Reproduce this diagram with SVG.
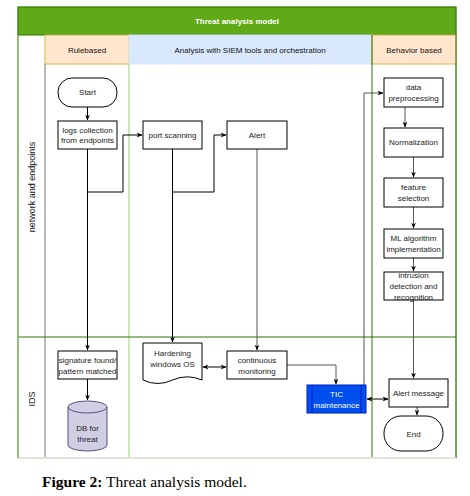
<svg xmlns="http://www.w3.org/2000/svg" width="470" height="496" viewBox="0 0 470 496">
<defs>
<marker id="ah" viewBox="0 0 10 10" refX="9" refY="5" markerWidth="6" markerHeight="6" orient="auto-start-reverse" markerUnits="userSpaceOnUse">
<path d="M0,1 L10,5 L0,9 L3,5 Z" fill="#000"/>
</marker>
<style>
text{font-family:"Liberation Sans",Arial,sans-serif;font-size:8px;fill:#222;text-anchor:middle}
.hdr{font-weight:bold;fill:#fff;font-size:8px}
.lh{font-size:8px;fill:#111}
.ll{font-size:9px;fill:#111}
.box{fill:#fff;stroke:#000;stroke-width:1}
.con{fill:none;stroke:#000;stroke-width:1}
.cong{fill:none;stroke:#555;stroke-width:1}
.cap{font-family:"Liberation Serif","Times New Roman",serif;font-size:15.5px;fill:#000;text-anchor:start}
</style>
</defs>
<rect width="470" height="496" fill="#fff"/>
<g id="pool">
<rect x="18" y="7" width="438" height="451" fill="#fff" stroke="#82b366"/>
<rect x="18" y="7" width="438" height="28" fill="#60a917" stroke="#2d7600"/>
<text class="hdr" x="237" y="24">Threat analysis model</text>
<rect x="45" y="35" width="84" height="29" fill="#ffe6cc" stroke="#d6b656"/>
<text class="lh" x="87" y="53">Rulebased</text>
<rect x="129" y="35" width="243" height="29" fill="#dae8fc" stroke="#dae8fc"/>
<text class="lh" x="250" y="53">Analysis with SIEM tools and orchestration</text>
<rect x="372" y="35" width="84" height="29" fill="#ffe6cc" stroke="#d6b656"/>
<text class="lh" x="414" y="53">Behavior based</text>
<line x1="45" y1="64" x2="45" y2="458" stroke="#777"/>
<line x1="129" y1="64" x2="129" y2="458" stroke="#97d077"/>
<line x1="372" y1="35" x2="372" y2="458" stroke="#2d7600"/>
<line x1="456" y1="35" x2="456" y2="458" stroke="#2d7600"/>
<line x1="18" y1="337" x2="456" y2="337" stroke="#2d7600"/>
<line x1="18" y1="458" x2="456" y2="458" stroke="#e0e6dc" stroke-width="2"/>
<line x1="18" y1="35" x2="18" y2="458" stroke="#82b366" stroke-width="1.5"/>
<text class="ll" transform="translate(35,187) rotate(-90)">network and endpoints</text>
<text class="ll" transform="translate(35,399) rotate(-90)">IDS</text>
</g>
<g id="connectors">
<path class="con" d="M87.5,107 V120" marker-end="url(#ah)"/>
<path class="con" d="M87.5,149 V350" marker-end="url(#ah)"/>
<path class="con" d="M87.5,192 H123 V135 H142" marker-end="url(#ah)"/>
<path class="con" d="M172.5,149 V342" marker-end="url(#ah)"/>
<path class="con" d="M172.5,192 H214 V135 H226" marker-end="url(#ah)"/>
<path class="cong" d="M257,149 V350" marker-end="url(#ah)"/>
<path class="con" d="M203,367 H226" marker-start="url(#ah)" marker-end="url(#ah)"/>
<path class="cong" d="M287,365 H336 V384" marker-end="url(#ah)"/>
<path class="cong" d="M364,385 V93 H383" marker-end="url(#ah)"/>
<path class="cong" d="M405,107 V127" marker-end="url(#ah)"/>
<path class="cong" d="M413.5,157 V177" marker-end="url(#ah)"/>
<path class="cong" d="M413.5,207 V228" marker-end="url(#ah)"/>
<path class="cong" d="M413.5,258 V271" marker-end="url(#ah)"/>
<path class="cong" d="M413.5,300 V378" marker-end="url(#ah)"/>
<path class="cong" d="M417,407 V415" marker-end="url(#ah)"/>
<path class="con" d="M367,399 H388" marker-start="url(#ah)" marker-end="url(#ah)"/>
<path class="con" d="M87.5,379 V400" marker-end="url(#ah)"/>
</g>
<g id="start"><rect class="box" x="58" y="78" width="59" height="29" rx="14" ry="14"/><text x="87.5" y="95">Start</text></g>
<g id="logs"><rect class="box" x="58" y="121" width="59" height="28"/><text x="87.5" y="133">logs collection</text><text x="87.5" y="143">from endpoints</text></g>
<g id="port"><rect class="box" x="143" y="121" width="59" height="28"/><text x="172.5" y="138">port scanning</text></g>
<g id="alert"><rect class="box" x="227" y="121" width="60" height="28"/><text x="257" y="138">Alert</text></g>
<g id="datapre"><rect class="box" x="384" y="78" width="59" height="29"/><text x="413.5" y="90">data</text><text x="413.5" y="101">preprocessing</text></g>
<g id="norm"><rect class="box" x="384" y="128" width="59" height="29"/><text x="413.5" y="145">Normalization</text></g>
<g id="feature"><rect class="box" x="384" y="178" width="59" height="29"/><text x="413.5" y="190">feature</text><text x="413.5" y="201">selection</text></g>
<g id="ml"><rect class="box" x="384" y="229" width="59" height="29"/><text x="413.5" y="241">ML algorithm</text><text x="413.5" y="252">implementation</text></g>
<g id="intrusion"><rect class="box" x="384" y="272" width="59" height="28"/><text x="413.5" y="278">intrusion</text><text x="413.5" y="289">detection and</text><text x="413.5" y="300">recognition</text></g>
<g id="signature"><rect class="box" x="58" y="351" width="59" height="28" stroke="#555"/><text x="87.5" y="363">signature found/</text><text x="87.5" y="374">pattern matched</text></g>
<g id="db"><path d="M68,407 A19.5,6 0 0 1 107,407 V445 A19.5,6 0 0 1 68,445 Z" fill="#d0cee2" stroke="#56517e"/><path d="M68,407 A19.5,6 0 0 0 107,407" fill="none" stroke="#56517e"/><text x="87.5" y="431">DB for</text><text x="87.5" y="442">threat</text></g>
<g id="hardening"><path d="M143,343 H202 V380 Q187.25,373.6 172.5,380 Q157.75,387 143,380 Z" class="box"/><text x="172.5" y="356">Hardening</text><text x="172.5" y="367">windows OS</text></g>
<g id="monitoring"><rect class="box" x="227" y="351" width="60" height="28"/><text x="257" y="363">continuous</text><text x="257" y="374">monitoring</text></g>
<g id="tic"><rect x="307" y="385" width="59" height="28" fill="#0050ef" stroke="#001dbc"/><line x1="312" y1="385" x2="312" y2="413" stroke="#001dbc"/><line x1="361" y1="385" x2="361" y2="413" stroke="#001dbc"/><text x="336.5" y="397" style="fill:#fff">TIC</text><text x="336.5" y="408" style="fill:#fff">maintenance</text></g>
<g id="alertmsg"><rect class="box" x="389" y="379" width="59" height="28"/><text x="418.5" y="396">Alert message</text></g>
<g id="end"><rect class="box" x="384" y="416" width="59" height="35" rx="17" ry="17"/><text x="413.5" y="437">End</text></g>
<text class="cap" x="42" y="487"><tspan font-weight="bold">Figure 2:</tspan> Threat analysis model.</text>
</svg>
